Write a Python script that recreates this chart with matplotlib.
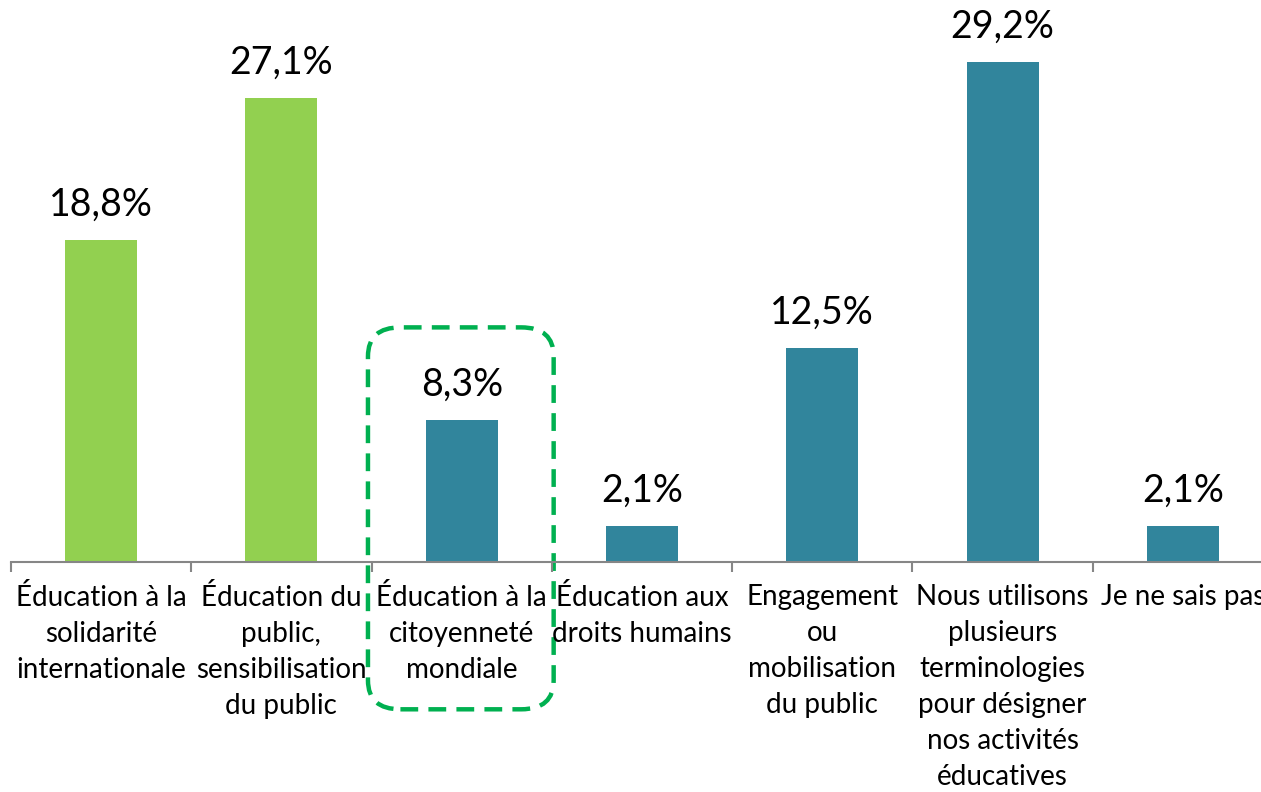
import matplotlib
matplotlib.use("Agg")
from matplotlib import pyplot as plt
from matplotlib.patches import FancyBboxPatch
import numpy as np

labels = ["Éducation à la\nsolidarité\ninternationale",
          "Éducation du\npublic,\nsensibilisation\ndu public",
          "Éducation à la\ncitoyenneté\nmondiale",
          "Éducation aux\ndroits humains",
          "Engagement\nou\nmobilisation\ndu public",
          "Nous utilisons\nplusieurs\nterminologies\npour désigner\nnos activités\néducatives",
          "Je ne sais pas"]
values = [18.8, 27.1, 8.3, 2.1, 12.5, 29.2, 2.1]
colors = ["#92D050", "#92D050", "#31859C", "#31859C", "#31859C", "#31859C", "#31859C"]
highlight = 2

plt.rcParams['font.family'] = ['Lato', 'DejaVu Sans']

fig = plt.figure(figsize=(12.61, 7.92), dpi=100)
# axes runs slightly past the right edge, like the source image
ax = fig.add_axes([11/1261, 230/792, 1262/1261, 562/792])

x = np.arange(len(values))
ax.bar(x, values, width=0.4, color=colors)
for xi, v in zip(x, values):
    ax.text(xi, v + 1.0, f"{v:.1f}%".replace(".", ","), ha="center", va="bottom", fontsize=27)

ax.set_xlim(-0.5, len(values) - 0.5)
ax.set_ylim(0, 562/17.12)
ax.set_xticks(x)
ax.set_xticklabels(labels, fontsize=20, linespacing=1.47)
ax.tick_params(axis="x", which="major", length=0, pad=16)
ax.set_xticks(np.arange(len(values) + 1) - 0.5, minor=True)
ax.tick_params(axis="x", which="minor", length=7, width=1.5, color="#868686")
ax.set_yticks([])
for s in ["top", "right", "left"]:
    ax.spines[s].set_visible(False)
ax.spines["bottom"].set_color("#868686")
ax.spines["bottom"].set_linewidth(1.5)

# dashed rounded box around the highlighted category
box = FancyBboxPatch((highlight - 0.36, -7.1), 0.71, 19.3,
                     boxstyle="round,pad=0.16,rounding_size=0.18",
                     mutation_aspect=9.4,
                     fill=False, edgecolor="#00B050", linewidth=3.2, linestyle=(0, (4, 2.3)),
                     clip_on=False)
ax.add_patch(box)

fig.savefig("out.png", dpi=100)
